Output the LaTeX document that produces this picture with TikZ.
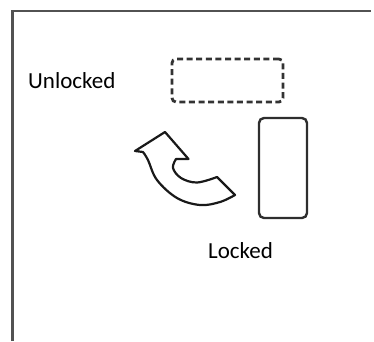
\documentclass[tikz,border=0pt]{standalone}
\usepackage{fontspec}
\setmainfont{Carlito}
\begin{document}
\begin{tikzpicture}[x=1pt,y=-1pt,
  frameline/.style={draw=black!68,line width=2.8pt},
  lbl/.style={anchor=base west,inner sep=0pt,font=\fontsize{23}{26}\selectfont,text=black},
  dashbox/.style={draw=black!80,line width=2.8pt,dash pattern=on 6pt off 3.6pt,rounded corners=4pt,minimum width=111pt,minimum height=43pt,inner sep=0pt},
  solidbox/.style={draw=black!82,line width=2.4pt,rounded corners=5pt,minimum width=48pt,minimum height=100pt,inner sep=0pt},
  arr/.style={draw=black!90,line width=2.2pt,line join=round}]
\useasboundingbox (0,0) rectangle (374,341);
\coordinate (fb) at (12.5,341);
\coordinate (fc) at (12.5,11);
\coordinate (fr) at (371,11);
\draw[frameline] (fb) -- (fc) -- (fr);
\node[lbl] (unlocked) at (28,88) {Unlocked};
\node[lbl] (locked) at (208,258) {Locked};
\node[dashbox] (open) at (227.5,80.5) {};
\node[solidbox] (shut) at (283,168) {};
\draw[arr] (135,151) -- (165,132) -- (188.5,159) -- (176,159)
  -- plot[smooth,tension=0.6] coordinates {(176,159) (173,168) (181,178) (197,182.5) (217,177)}
  -- (235,195)
  -- plot[smooth,tension=0.6] coordinates {(235,195) (220,202) (200,205) (177,198) (157,180) (148,160) (143,152)}
  -- cycle;
\end{tikzpicture}
\end{document}
